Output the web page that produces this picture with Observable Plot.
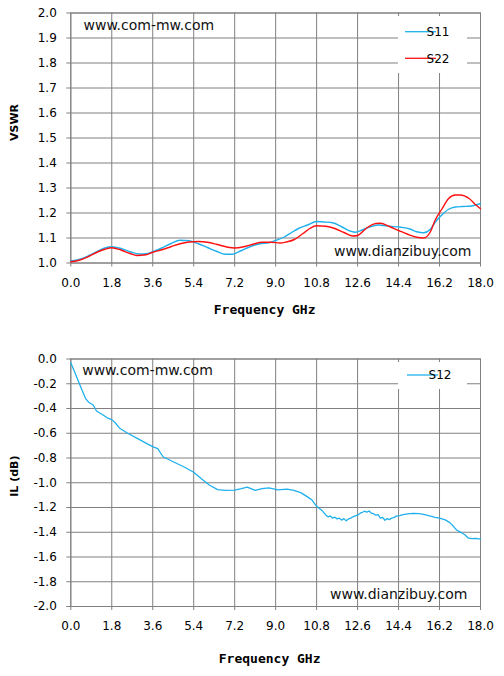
<!DOCTYPE html>
<html>
<head>
<meta charset="utf-8">
<script src="https://cdn.jsdelivr.net/npm/d3@7"></script>
<script src="https://cdn.jsdelivr.net/npm/@observablehq/plot@0.6"></script>
<style>
  html, body { margin: 0; padding: 0; background: #fff; }
  #chart svg { display: block; }
</style>
</head>
<body>
<div id="chart"></div>
<script>
// ---------- data ----------
const xTicks = [0, 1.8, 3.6, 5.4, 7.2, 9.0, 10.8, 12.6, 14.4, 16.2, 18.0];
const vswrTicks = [1.0, 1.1, 1.2, 1.3, 1.4, 1.5, 1.6, 1.7, 1.8, 1.9, 2.0];
const ilTicks = [0, -0.2, -0.4, -0.6, -0.8, -1.0, -1.2, -1.4, -1.6, -1.8, -2.0];

const s11Freq = [0.0,0.4,0.8,1.2,1.5,1.8,2.2,2.6,3.0,3.3,3.6,4.0,4.4,4.8,5.2,5.6,6.0,6.4,6.8,7.1,7.5,7.9,8.3,8.7,9.0,9.4,9.7,10.0,10.4,10.8,11.1,11.5,11.9,12.3,12.5,12.8,13.1,13.5,14.0,14.5,14.9,15.2,15.5,15.8,16.0,16.3,16.6,16.9,17.2,17.6,17.9,18.0];
const s11Val  = [1.008,1.015,1.030,1.048,1.060,1.065,1.058,1.045,1.036,1.037,1.045,1.060,1.078,1.091,1.089,1.077,1.062,1.047,1.035,1.035,1.050,1.066,1.077,1.081,1.090,1.105,1.122,1.138,1.152,1.166,1.164,1.161,1.145,1.127,1.123,1.132,1.143,1.152,1.147,1.143,1.136,1.125,1.121,1.135,1.162,1.192,1.215,1.224,1.226,1.228,1.235,1.238];

const s22Freq = [0.0,0.4,0.8,1.2,1.5,1.8,2.2,2.6,2.9,3.3,3.6,4.0,4.4,4.8,5.2,5.6,6.0,6.4,6.9,7.2,7.6,8.0,8.4,8.8,9.2,9.5,9.8,10.2,10.5,10.8,11.2,11.6,12.0,12.4,12.6,13.0,13.4,13.6,14.0,14.4,14.8,15.2,15.5,15.8,16.0,16.3,16.6,16.9,17.1,17.5,17.8,18.0];
const s22Val  = [1.005,1.012,1.027,1.045,1.055,1.061,1.052,1.038,1.030,1.033,1.043,1.053,1.065,1.077,1.084,1.086,1.083,1.075,1.063,1.060,1.065,1.075,1.083,1.083,1.080,1.085,1.093,1.118,1.138,1.149,1.147,1.138,1.122,1.108,1.110,1.140,1.158,1.159,1.146,1.130,1.115,1.103,1.100,1.125,1.170,1.215,1.258,1.272,1.272,1.258,1.232,1.217];

const s12Freq = [0.0,0.2,0.35,0.5,0.65,0.8,0.98,1.13,1.4,1.6,1.8,1.95,2.15,2.5,3.0,3.4,3.65,3.82,4.05,4.5,5.0,5.4,5.75,6.1,6.45,6.8,7.2,7.5,7.75,8.1,8.4,8.7,9.1,9.5,9.8,10.1,10.4,10.6,10.8,11.05,11.2,11.3,11.4,11.5,11.6,11.7,11.8,11.9,12.0,12.1,12.2,12.3,12.4,12.5,12.6,12.7,12.8,12.9,13.0,13.1,13.2,13.3,13.4,13.5,13.6,13.7,13.8,13.9,14.0,14.1,14.2,14.3,14.45,14.6,14.8,15.05,15.3,15.5,15.8,16.0,16.2,16.45,16.65,16.8,16.95,17.1,17.3,17.45,17.6,17.8,18.0];
const s12Val  = [-0.03,-0.12,-0.187,-0.254,-0.32,-0.352,-0.372,-0.42,-0.45,-0.475,-0.49,-0.515,-0.56,-0.6,-0.65,-0.69,-0.712,-0.725,-0.79,-0.83,-0.875,-0.915,-0.97,-1.02,-1.055,-1.062,-1.06,-1.047,-1.035,-1.062,-1.048,-1.042,-1.058,-1.052,-1.062,-1.08,-1.114,-1.14,-1.19,-1.227,-1.26,-1.275,-1.268,-1.285,-1.278,-1.292,-1.286,-1.302,-1.29,-1.308,-1.292,-1.286,-1.275,-1.268,-1.262,-1.248,-1.24,-1.23,-1.238,-1.228,-1.245,-1.25,-1.262,-1.258,-1.285,-1.28,-1.303,-1.29,-1.298,-1.285,-1.282,-1.27,-1.265,-1.257,-1.252,-1.247,-1.25,-1.256,-1.27,-1.28,-1.286,-1.3,-1.322,-1.35,-1.382,-1.397,-1.418,-1.445,-1.452,-1.45,-1.455];

// ---------- build tables ----------
const s11 = s11Freq.map((f, i) => ({f, v: s11Val[i]}));
const s22 = s22Freq.map((f, i) => ({f, v: s22Val[i]}));
const s12 = s12Freq.map((f, i) => ({f, v: s12Val[i]}));

const GRID = "#808080";
const BLUE = "#1FB0EC";
const RED = "#FF1010";
const fmt = d => d.toFixed(1);
const font = "DejaVu Sans, Verdana, sans-serif";

function baseMarks(yTicks) {
  return [
    Plot.gridX(xTicks, {stroke: GRID, strokeOpacity: 1}),
    Plot.gridY(yTicks, {stroke: GRID, strokeOpacity: 1}),
    Plot.frame({stroke: GRID}),
    Plot.axisX(xTicks, {tickFormat: fmt, tickSize: 4, tickPadding: 11, stroke: GRID, fill: "#000", label: null, fontSize: 12}),
    Plot.axisY(yTicks, {tickFormat: fmt, tickSize: 4, tickPadding: 10, stroke: GRID, fill: "#000", label: null, fontSize: 12})
  ];
}

// ---------- top chart: VSWR ----------
const chartTop = Plot.plot({
  width: 504, height: 330,
  marginTop: 12.5, marginBottom: 67.5, marginLeft: 70.3, marginRight: 24,
  style: {fontFamily: font, fontSize: "12px", background: "#fff"},
  x: {domain: [0, 18]},
  y: {domain: [1.0, 2.0]},
  marks: [
    ...baseMarks(vswrTicks),
    Plot.line(s11, {x: "f", y: "v", stroke: BLUE, strokeWidth: 1.4, curve: "monotone-x"}),
    Plot.line(s22, {x: "f", y: "v", stroke: RED, strokeWidth: 1.4, curve: "monotone-x"}),
    Plot.text(["www.com-mw.com"], {frameAnchor: "top-left", textAnchor: "start", lineAnchor: "middle", dx: 12.7, dy: 12.5, fontSize: 14, fill: "#111"}),
    Plot.text(["www.dianzibuy.com"], {frameAnchor: "bottom-right", textAnchor: "end", lineAnchor: "middle", dx: -9, dy: -11.8, fontSize: 14, fill: "#111"}),
    Plot.text(["Frequency GHz"], {frameAnchor: "bottom", lineAnchor: "middle", dx: -11, dy: 46.5, fontSize: 13, fontWeight: "bold", fontFamily: "DejaVu Sans Mono, monospace", fill: "#000", style: "letter-spacing:1.3px"}),
    Plot.text(["VSWR"], {frameAnchor: "left", rotate: -90, lineAnchor: "middle", dx: -56, dy: 3, fontSize: 11, fontWeight: "bold", fill: "#000"})
  ]
});

// ---------- bottom chart: IL ----------
const chartBottom = Plot.plot({
  width: 504, height: 346,
  marginTop: 28.5, marginBottom: 70, marginLeft: 70.3, marginRight: 24,
  style: {fontFamily: font, fontSize: "12px", background: "#fff"},
  x: {domain: [0, 18]},
  y: {domain: [-2.0, 0]},
  marks: [
    ...baseMarks(ilTicks),
    Plot.line(s12, {x: "f", y: "v", stroke: BLUE, strokeWidth: 1.3}),
    Plot.text(["www.com-mw.com"], {frameAnchor: "top-left", textAnchor: "start", lineAnchor: "middle", dx: 11.4, dy: 11.5, fontSize: 14, fill: "#111"}),
    Plot.text(["www.dianzibuy.com"], {frameAnchor: "bottom-right", textAnchor: "end", lineAnchor: "middle", dx: -13, dy: -12, fontSize: 14, fill: "#111"}),
    Plot.text(["Frequency GHz"], {frameAnchor: "bottom", lineAnchor: "middle", dx: -6, dy: 52, fontSize: 13, fontWeight: "bold", fontFamily: "DejaVu Sans Mono, monospace", fill: "#000", style: "letter-spacing:1.3px"}),
    Plot.text(["IL (dB)"], {frameAnchor: "left", rotate: -90, lineAnchor: "middle", dx: -56, dy: 14, fontSize: 11, fontWeight: "bold", fill: "#000"})
  ]
});

// ---------- legends ----------
function legend(svg, box, items) {
  const g = d3.select(svg).append("g").attr("font-family", font).attr("font-size", 12);
  g.append("rect").attr("x", box[0]).attr("y", box[1]).attr("width", box[2]).attr("height", box[3]).attr("fill", "#fff");
  items.forEach(it => {
    g.append("line").attr("x1", it.x1).attr("x2", it.x2).attr("y1", it.y).attr("y2", it.y)
      .attr("stroke", it.color).attr("stroke-width", 1.3);
    g.append("text").attr("x", it.x2 + 2).attr("y", it.y).attr("dy", "0.36em").attr("fill", "#000").text(it.label);
  });
}
legend(chartTop, [398, 16, 69, 57], [
  {label: "S11", color: BLUE, x1: 405, x2: 436, y: 31.7},
  {label: "S22", color: RED, x1: 405, x2: 436, y: 58.3}
]);
legend(chartBottom, [398, 32, 69, 27], [
  {label: "S12", color: BLUE, x1: 407, x2: 438, y: 45}
]);

document.getElementById("chart").append(chartTop, chartBottom);
</script>
</body>
</html>
